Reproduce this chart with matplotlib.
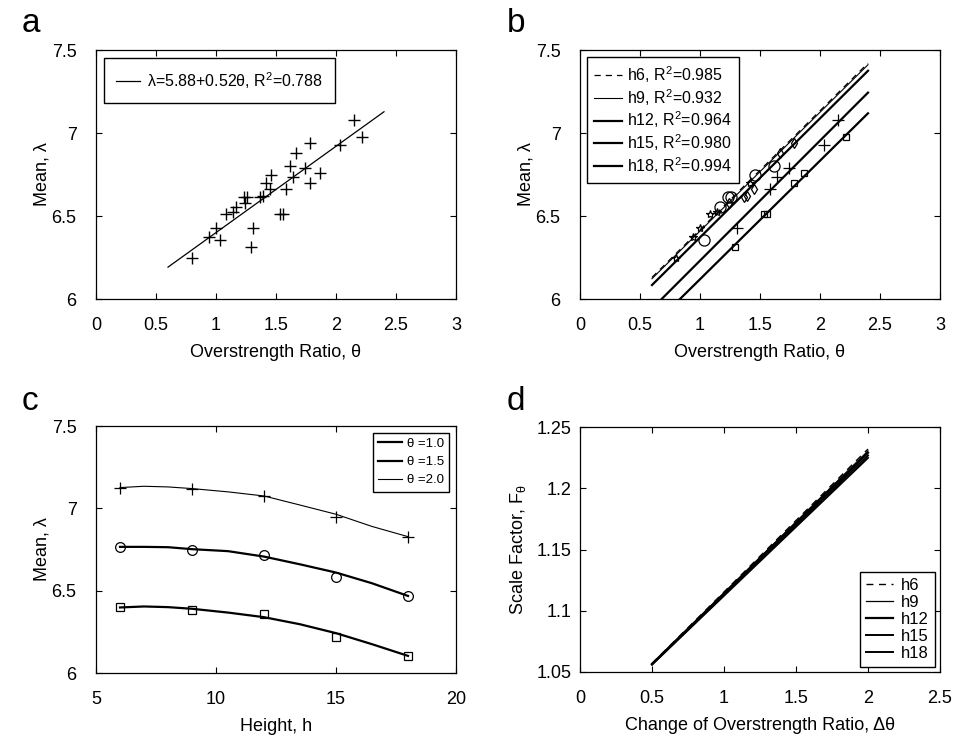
import numpy as np
import matplotlib
matplotlib.use('Agg')
import matplotlib.pyplot as plt

plt.rcParams['font.family'] = ['Liberation Sans', 'DejaVu Sans']
plt.rcParams['mathtext.default'] = 'regular'
plt.rcParams['font.size'] = 12

# ---- data: panel a / b (mean lambda vs overstrength ratio, by height) ----
heights = ['h6', 'h9', 'h12', 'h15', 'h18']
theta_h6 = [0.80, 0.94, 1.00, 1.08, 1.14, 1.42]
lam_h6 = [6.245, 6.372, 6.426, 6.512, 6.526, 6.700]
theta_h9 = [1.03, 1.17, 1.23, 1.26, 1.46, 1.62]
lam_h9 = [6.355, 6.552, 6.613, 6.613, 6.747, 6.801]
theta_h12 = [1.24, 1.37, 1.39, 1.45, 1.67, 1.78]
lam_h12 = [6.580, 6.613, 6.620, 6.663, 6.881, 6.938]
theta_h15 = [1.31, 1.58, 1.64, 1.74, 2.03, 2.15]
lam_h15 = [6.426, 6.663, 6.733, 6.787, 6.928, 7.078]
theta_h18 = [1.29, 1.53, 1.56, 1.78, 1.87, 2.22]
lam_h18 = [6.315, 6.512, 6.512, 6.700, 6.757, 6.974]

# regression lines (intercept, slope)
fit_all = (5.88, 0.52)
fit_a_label = '\u03bb=5.88+0.52\u03b8, R$^2$=0.788'
fit_intercepts = [5.700, 5.693, 5.654, 5.508, 5.405]
fit_slopes = [0.717, 0.716, 0.717, 0.723, 0.714]
fit_r2 = ['0.985', '0.932', '0.964', '0.980', '0.994']
fit_range = [0.6, 2.4]

# ---- panel c: mean lambda vs height ----
h_pts = [6, 9, 12, 15, 18]
lam_t10 = [6.398, 6.383, 6.359, 6.220, 6.106]
lam_t15 = [6.766, 6.748, 6.717, 6.580, 6.468]
lam_t20 = [7.126, 7.118, 7.075, 6.950, 6.828]
h_curve = [6, 7, 8, 9, 10.5, 12, 13.5, 15, 16.5, 18]
curve_t10 = [6.398, 6.404, 6.400, 6.390, 6.367, 6.339, 6.296, 6.242, 6.175, 6.104]
curve_t15 = [6.766, 6.766, 6.764, 6.752, 6.740, 6.707, 6.660, 6.610, 6.545, 6.468]
curve_t20 = [7.126, 7.134, 7.130, 7.120, 7.100, 7.075, 7.020, 6.964, 6.890, 6.828]

# ---- panel d: scale factor vs change of overstrength ratio ----
dtheta = [0.5, 2.0]
F_h6 = [1.0570, 1.2320]
F_h9 = [1.0568, 1.2305]
F_h12 = [1.0565, 1.2290]
F_h15 = [1.0563, 1.2268]
F_h18 = [1.0560, 1.2248]

W, H = 956, 746
fig = plt.figure(figsize=(W / 100, H / 100), dpi=100)


def box(l, t, r, b):
    return [l / W, 1 - b / H, (r - l) / W, (b - t) / H]


def style(ax, ypad=14):
    ax.tick_params(direction='in', top=True, right=True, length=4, labelsize=13)
    ax.tick_params(axis='x', pad=13)
    ax.tick_params(axis='y', pad=ypad)
    for s in ax.spines.values():
        s.set_linewidth(0.9)


ax_a = fig.add_axes(box(96, 50, 456, 299))
ax_b = fig.add_axes(box(580, 50, 940, 299))
ax_c = fig.add_axes(box(96, 426, 456, 673))
ax_d = fig.add_axes(box(580, 427, 940, 672))

leg_kw = dict(fancybox=False, edgecolor='black', framealpha=1)

# panel a
all_theta = theta_h6 + theta_h9 + theta_h12 + theta_h15 + theta_h18
all_lam = lam_h6 + lam_h9 + lam_h12 + lam_h15 + lam_h18
xx = np.array(fit_range)
ax_a.plot(xx, fit_all[0] + fit_all[1] * xx, 'k-', lw=0.9, label=fit_a_label)
ax_a.plot(all_theta, all_lam, 'k+', ms=8, mew=1.0)
ax_a.set_xlim(0, 3)
ax_a.set_ylim(6, 7.5)
ax_a.set_xticks([0, 0.5, 1, 1.5, 2, 2.5, 3])
ax_a.set_xticklabels(['0', '0.5', '1', '1.5', '2', '2.5', '3'])
ax_a.set_yticks([6, 6.5, 7, 7.5])
ax_a.set_yticklabels(['6', '6.5', '7', '7.5'])
ax_a.set_xlabel('Overstrength Ratio, \u03b8', fontsize=13, labelpad=7)
ax_a.set_ylabel('Mean, \u03bb', fontsize=13, labelpad=1)
ax_a.legend(loc='upper left', fontsize=11.5, handlelength=1.5, handletextpad=0.45,
            borderpad=0.75, borderaxespad=0.5, **leg_kw)
style(ax_a)

# panel b
groups_t = [theta_h6, theta_h9, theta_h12, theta_h15, theta_h18]
groups_l = [lam_h6, lam_h9, lam_h12, lam_h15, lam_h18]
markers = ['*', 'o', 'd', '+', 's']
msizes = [6, 8, 5, 8, 5]
lstyles = [(0, (5, 4)), '-', '-', '-', '-']
lwidths = [0.9, 0.8, 1.6, 1.6, 1.6]
for i in range(5):
    ax_b.plot(xx, fit_intercepts[i] + fit_slopes[i] * xx, color='black',
              ls=lstyles[i], lw=lwidths[i],
              label=heights[i] + ', R$^2$=' + fit_r2[i])
for i in range(5):
    ax_b.plot(groups_t[i], groups_l[i], ls='none', marker=markers[i], ms=msizes[i],
              mfc='none', mec='black', mew=0.9)
ax_b.set_xlim(0, 3)
ax_b.set_ylim(6, 7.5)
ax_b.set_xticks([0, 0.5, 1, 1.5, 2, 2.5, 3])
ax_b.set_xticklabels(['0', '0.5', '1', '1.5', '2', '2.5', '3'])
ax_b.set_yticks([6, 6.5, 7, 7.5])
ax_b.set_yticklabels(['6', '6.5', '7', '7.5'])
ax_b.set_xlabel('Overstrength Ratio, \u03b8', fontsize=13, labelpad=7)
ax_b.set_ylabel('Mean, \u03bb', fontsize=13, labelpad=1)
ax_b.legend(loc='upper left', fontsize=11.5, handlelength=1.7, labelspacing=0.12,
            handletextpad=0.35, borderpad=0.45, borderaxespad=0.45, **leg_kw)
style(ax_b)

# panel c
ax_c.plot(h_curve, curve_t10, 'k-', lw=1.6, label='\u03b8 =1.0')
ax_c.plot(h_curve, curve_t15, 'k-', lw=1.6, label='\u03b8 =1.5')
ax_c.plot(h_curve, curve_t20, 'k-', lw=0.8, label='\u03b8 =2.0')
ax_c.plot(h_pts, lam_t10, ls='none', marker='s', ms=6, mfc='none', mec='black', mew=0.9)
ax_c.plot(h_pts, lam_t15, ls='none', marker='o', ms=7, mfc='none', mec='black', mew=0.9)
ax_c.plot(h_pts, lam_t20, ls='none', marker='+', ms=9, mec='black', mew=0.9)
ax_c.set_xlim(5, 20)
ax_c.set_ylim(6, 7.5)
ax_c.set_xticks([5, 10, 15, 20])
ax_c.set_yticks([6, 6.5, 7, 7.5])
ax_c.set_yticklabels(['6', '6.5', '7', '7.5'])
ax_c.set_xlabel('Height, h', fontsize=13, labelpad=7)
ax_c.set_ylabel('Mean, \u03bb', fontsize=13, labelpad=1)
ax_c.legend(loc='upper right', fontsize=9.5, handlelength=1.8, labelspacing=0.45,
            handletextpad=0.4, borderpad=0.4, borderaxespad=0.5, **leg_kw)
style(ax_c)

# panel d
F_all = [F_h6, F_h9, F_h12, F_h15, F_h18]
lw_d = [1.0, 0.9, 1.6, 1.4, 1.4]
for i in range(5):
    ax_d.plot(dtheta, F_all[i], color='black', ls=lstyles[i], lw=lw_d[i], label=heights[i])
ax_d.set_xlim(0, 2.5)
ax_d.set_ylim(1.05, 1.25)
ax_d.set_xticks([0, 0.5, 1, 1.5, 2, 2.5])
ax_d.set_xticklabels(['0', '0.5', '1', '1.5', '2', '2.5'])
ax_d.set_yticks([1.05, 1.1, 1.15, 1.2, 1.25])
ax_d.set_yticklabels(['1.05', '1.1', '1.15', '1.2', '1.25'])
ax_d.set_xlabel('Change of Overstrength Ratio, \u0394\u03b8', fontsize=13, labelpad=7)
ax_d.set_ylabel('Scale Factor, F$_\u03b8$', fontsize=13, labelpad=6)
ax_d.legend(loc='lower right', fontsize=12, handlelength=1.6, labelspacing=0.12,
            handletextpad=0.5, borderpad=0.35, borderaxespad=0.3, **leg_kw)
style(ax_d, ypad=6)

# panel letters
for lab, (px, py) in zip('abcd', [(22, 24), (507, 24), (22, 401), (507, 401)]):
    fig.text(px / W, 1 - py / H, lab, fontsize=24, ha='left', va='center')

fig.savefig('out.png', dpi=100)
